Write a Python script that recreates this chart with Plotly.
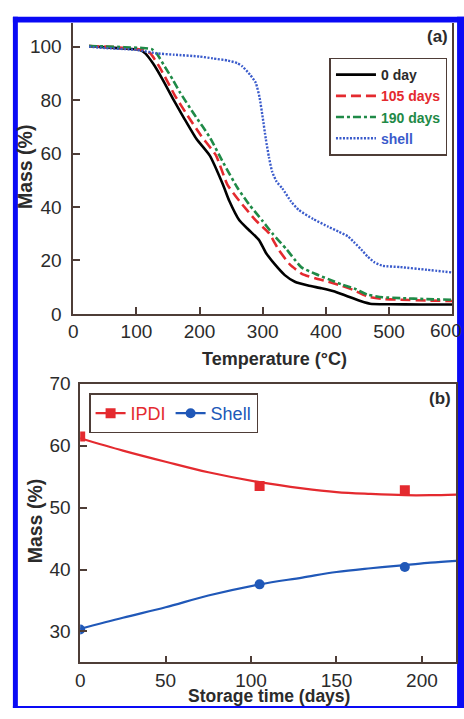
import plotly.graph_objects as go

# ---------------- data ----------------
# (a) TGA curves
temp_0day = [25, 50, 80, 105, 114, 127, 142, 158, 176, 195, 216, 237, 247, 263, 278, 294, 305, 320, 335, 351, 372, 393, 414, 435, 456, 470, 500, 550, 600]
mass_0day = [100.2, 99.8, 99.3, 98.8, 97.5, 93.5, 87.5, 80.5, 73, 65.5, 59.3, 48.4, 42.3, 35, 31.4, 27.7, 22.9, 18.3, 14.5, 12, 10.6, 9.6, 8.4, 6.5, 4.7, 3.8, 3.6, 3.5, 3.5]

temp_105 = [25, 50, 80, 110, 122, 135, 148, 161, 183, 203, 226, 244, 263, 289, 310, 325, 343, 362, 383, 404, 425, 445, 466, 490, 518, 560, 600]
mass_105 = [100.2, 100, 99.6, 98.8, 97.5, 93, 87.5, 81.7, 73.5, 66.5, 59.3, 48.4, 42.3, 35, 30.2, 24.1, 18.5, 15, 13.3, 12, 10.5, 8.8, 6.5, 5.6, 5.3, 5, 4.8]

temp_190 = [25, 50, 80, 110, 125, 132, 145, 158, 169, 192, 216, 237, 260, 278, 299, 315, 338, 350, 362, 383, 404, 425, 445, 466, 490, 518, 560, 600]
mass_190 = [100.2, 100.1, 99.8, 99.5, 99, 97.5, 92.5, 87.5, 82.9, 74.5, 66.2, 56.8, 47.2, 41.1, 35, 30.2, 24.1, 20.5, 17.3, 15, 13, 11, 9.5, 7.2, 6.2, 5.9, 5.5, 5.3]

temp_shell = [25, 50, 100, 132, 160, 200, 221, 245, 260, 268, 280, 289, 295, 300, 305, 310, 315, 322, 331, 345, 357, 380, 404, 420, 435, 446, 456, 466, 477, 490, 518, 560, 600]
mass_shell = [100, 99.5, 98.8, 97.5, 97, 96.3, 95.6, 94.8, 93.8, 92.6, 89.5, 86.5, 81, 73.5, 65.4, 58.5, 53.2, 49.5, 47, 42, 38.9, 35.5, 32.6, 30.8, 29, 26.5, 24.1, 21.5, 19.3, 18, 17.5, 16.5, 15.5]

# (b) storage-time data
days = [0, 105, 190]
ipdi_mass = [61.5, 53.5, 52.8]
shell_mass = [30.3, 37.6, 40.4]

# fitted trend curves
fit_days = [0, 25, 50, 75, 105, 130, 150, 170, 190, 205, 220]
ipdi_fit = [61.2, 59.2, 57.4, 55.7, 54.1, 53.1, 52.5, 52.2, 52.0, 52.0, 52.1]
shell_fit = [30.4, 32.2, 33.9, 35.8, 37.6, 38.7, 39.6, 40.2, 40.7, 41.1, 41.4]

x_ticks_a = [0, 100, 200, 300, 400, 500, 600]
y_ticks_a = [0, 20, 40, 60, 80, 100]
x_ticks_b = [0, 50, 100, 150, 200]
y_ticks_b = [30, 40, 50, 60, 70]

# ---------------- layout helpers ----------------
W, H = 464, 719
def px(x):
    return x / W
def py(y):
    return 1 - y / H

FONT = "Liberation Sans, Arial, Helvetica, sans-serif"
AX = "#4e3d37"
TXT = "#2b2b2b"
RED = "#e42a2f"
GREEN = "#1f8a47"
BLUE_A = "#3a5bcb"
BLUE_B = "#2058b8"

def gaps(vals):
    out = []
    for v in vals:
        out += [v, None]
    return out[:-1]

fig = go.Figure()

# (a)
fig.add_trace(go.Scatter(x=temp_0day, y=mass_0day, mode="lines", name="<b>0 day</b>",
                         line=dict(color="black", width=2.6, shape="spline", smoothing=0.5),
                         xaxis="x", yaxis="y", legend="legend"))
fig.add_trace(go.Scatter(x=temp_105, y=mass_105, mode="lines",
                         name="<b><span style='color:%s'>105 days</span></b>" % RED,
                         line=dict(color=RED, width=2.6, dash="10px,5px", shape="spline", smoothing=0.5),
                         xaxis="x", yaxis="y", legend="legend"))
fig.add_trace(go.Scatter(x=temp_190, y=mass_190, mode="lines",
                         name="<b><span style='color:%s'>190 days</span></b>" % GREEN,
                         line=dict(color=GREEN, width=2.6, dash="8px,3px,3px,3px", shape="spline", smoothing=0.5),
                         xaxis="x", yaxis="y", legend="legend"))
fig.add_trace(go.Scatter(x=temp_shell, y=mass_shell, mode="lines",
                         name="<b><span style='color:%s'>shell</span></b>" % BLUE_A,
                         line=dict(color=BLUE_A, width=2.4, dash="2px,1.5px", shape="spline", smoothing=0.5),
                         xaxis="x", yaxis="y", legend="legend"))

# (b) fitted curves
fig.add_trace(go.Scatter(x=fit_days, y=ipdi_fit, mode="lines", showlegend=False,
                         line=dict(color=RED, width=2.2, shape="spline"),
                         xaxis="x2", yaxis="y2"))
fig.add_trace(go.Scatter(x=fit_days, y=shell_fit, mode="lines", showlegend=False,
                         line=dict(color=BLUE_B, width=2.2, shape="spline"),
                         xaxis="x2", yaxis="y2"))
# (b) measured points
fig.add_trace(go.Scatter(x=gaps(days), y=gaps(ipdi_mass), mode="lines+markers", connectgaps=False,
                         name="<span style='color:%s'>IPDI</span>" % RED,
                         line=dict(color=RED, width=2.2),
                         marker=dict(symbol="square", size=10, color=RED),
                         xaxis="x2", yaxis="y2", legend="legend2"))
fig.add_trace(go.Scatter(x=gaps(days), y=gaps(shell_mass), mode="lines+markers", connectgaps=False,
                         name="<span style='color:%s'>Shell</span>" % BLUE_B,
                         line=dict(color=BLUE_B, width=2.2),
                         marker=dict(symbol="circle", size=10, color=BLUE_B),
                         xaxis="x2", yaxis="y2", legend="legend2"))

axis_common = dict(ticks="inside", ticklen=7, tickwidth=1.5, tickcolor=AX,
                   showline=True, linecolor=AX, linewidth=1.6,
                   showgrid=False, zeroline=False,
                   tickfont=dict(family=FONT, size=19, color=TXT))

# the last temperature label sits at the figure edge: drawn separately so it stays inside the page
ticktext_a = [str(v) for v in x_ticks_a[:-1]] + [""]

fig.update_layout(
    width=W, height=H,
    margin=dict(l=0, r=0, t=0, b=0),
    paper_bgcolor="white", plot_bgcolor="white",
    font=dict(family=FONT, color=TXT),
    xaxis=dict(domain=[px(69), px(452)], range=[0, 600], tickvals=x_ticks_a, ticktext=ticktext_a,
               anchor="y", **axis_common),
    yaxis=dict(domain=[py(313), py(13)], range=[0, 109], tickvals=y_ticks_a, anchor="x", mirror=True,
               ticklabelstandoff=6, **axis_common),
    xaxis2=dict(domain=[px(76), px(456)], range=[0, 220], tickvals=x_ticks_b, anchor="y2", mirror=True,
                **axis_common),
    yaxis2=dict(domain=[py(672), py(385)], range=[25, 70], tickvals=y_ticks_b, anchor="x2", mirror=True,
                ticklabelstandoff=4, **axis_common),
    legend=dict(x=px(328), y=py(49), xanchor="left", yanchor="top",
                bgcolor="white", bordercolor=AX, borderwidth=1.5,
                font=dict(family=FONT, size=14), tracegroupgap=0, itemwidth=40),
    legend2=dict(x=px(85), y=py(395), xanchor="left", yanchor="top", orientation="h",
                 bgcolor="white", bordercolor=AX, borderwidth=1.5,
                 font=dict(family=FONT, size=18), itemwidth=30),
    showlegend=True,
)

ann = [
    dict(text="<b>(a)</b>", x=px(437), y=py(27), size=17),
    dict(text="<b>(b)</b>", x=px(440), y=py(400), size=17),
    dict(text="<b>Temperature (°C)</b>", x=px(272), y=py(359), size=18),
    dict(text="<b>Mass (%)</b>", x=px(21), y=py(161), textangle=-90, size=19.5),
    dict(text="<b>Mass (%)</b>", x=px(30), y=py(526), textangle=-90, size=19.5),
    dict(text="<b>Storage time (days)</b>", x=px(267), y=py(707), size=17.5),
]
for a in ann:
    size = a.pop("size")
    a.update(xref="paper", yref="paper", xanchor="center", yanchor="middle", showarrow=False,
             font=dict(family=FONT, size=size, color=TXT))
    fig.add_annotation(**a)

fig.add_annotation(text=str(x_ticks_a[-1]), x=px(464), y=py(330), xref="paper", yref="paper",
                   xanchor="right", yanchor="middle", showarrow=False,
                   font=dict(family=FONT, size=19, color=TXT))

# blue frame around the figure
BORDER = "#0a0af5"
frame = [
    (8, 7, 464, 13),    # top
    (8, 7, 13, 719),    # left
    (457, 7, 464, 719), # right
    (8, 717, 464, 719), # bottom
]
for x0, y0, x1, y1 in frame:
    fig.add_shape(type="rect", xref="paper", yref="paper",
                  x0=px(x0), x1=px(x1), y0=py(y1), y1=py(y0),
                  fillcolor=BORDER, line=dict(width=0), layer="below")

clip_js = (
    "document.documentElement.style.overflow='hidden';"
    "document.body.style.margin='0';document.body.style.overflow='hidden';"
)
fig.write_html("out.html", config={"displayModeBar": False}, post_script=clip_js)
